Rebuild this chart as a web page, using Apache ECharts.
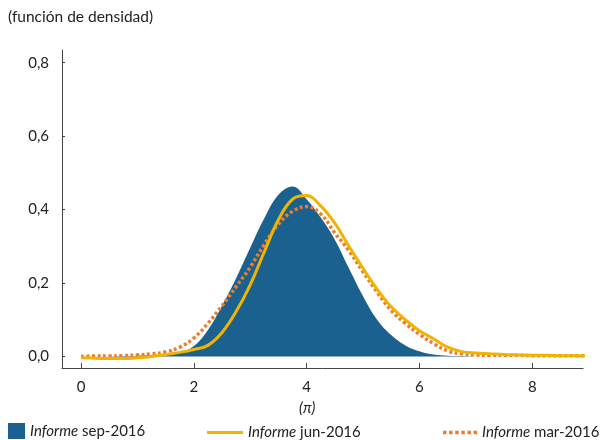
<!DOCTYPE html>
<html>
<head>
<meta charset="utf-8">
<script src="https://cdn.jsdelivr.net/npm/echarts@6/dist/echarts.min.js"></script>
<style>
  html, body { margin: 0; padding: 0; background: #fff; }
  #chart { width: 608px; height: 440px; }
</style>
</head>
<body>
<div id="chart"></div>
<script>
  // eje x (inflación), paso de 0,25
  const xs = [0, 0.25, 0.5, 0.75, 1, 1.25, 1.5, 1.75, 2, 2.25, 2.5, 2.75, 3, 3.25, 3.5, 3.75,
    4, 4.25, 4.5, 4.75, 5, 5.25, 5.5, 5.75, 6, 6.25, 6.5, 6.75, 7, 7.25, 7.5, 7.75, 8, 8.25, 8.5, 8.75, 9];

  const sep2016 = [0, 0, 0, 0.001, 0.002, 0.004, 0.006, 0.01, 0.028, 0.072, 0.138, 0.213, 0.296, 0.376, 0.44, 0.463,
    0.428, 0.378, 0.318, 0.24, 0.164, 0.1, 0.058, 0.03, 0.014, 0.005, 0.002, 0.001, 0, 0, 0, 0, 0, 0, 0, 0, 0];

  const jun2016 = [-0.004, -0.005, -0.006, -0.006, -0.004, 0, 0.005, 0.011, 0.019, 0.03, 0.065, 0.122, 0.195, 0.285, 0.372, 0.428,
    0.438, 0.41, 0.363, 0.3, 0.24, 0.183, 0.135, 0.1, 0.07, 0.048, 0.025, 0.013, 0.009, 0.007, 0.005, 0.004, 0.003, 0.003, 0.002, 0.002, 0.002];

  const mar2016 = [0, 0.001, 0.001, 0.002, 0.004, 0.007, 0.012, 0.025, 0.05, 0.09, 0.138, 0.19, 0.243, 0.305, 0.36, 0.395,
    0.408, 0.388, 0.336, 0.288, 0.23, 0.175, 0.125, 0.09, 0.06, 0.035, 0.015, 0.007, 0.004, 0.003, 0.003, 0.003, 0.002, 0.002, 0.002, 0.002, 0.002];

  const yTicks = [0, 0.2, 0.4, 0.6, 0.8];
  const xTicks = [0, 2, 4, 6, 8];

  const font = 'Lato';
  const pair = arr => xs.map((x, i) => [x, arr[i]]);
  const legendFmt = name => '{i|Informe}' + name.slice(7);
  const legendText = {
    fontSize: 15, color: '#222', fontFamily: font,
    rich: { i: { fontStyle: 'italic', fontSize: 15, fontFamily: font, color: '#222' } }
  };
  // seis puntos para la leyenda punteada
  const dots = 'path://M0,0h3.5v3.5h-3.5z M6.1,0h3.5v3.5h-3.5z M12.2,0h3.5v3.5h-3.5z M18.3,0h3.5v3.5h-3.5z M24.4,0h3.5v3.5h-3.5z M30.5,0h3.5v3.5h-3.5z';

  const chart = echarts.init(document.getElementById('chart'));

  const option = {
    animation: false,
    backgroundColor: '#fff',
    textStyle: { fontFamily: font },
    graphic: [
      {
        type: 'text', left: 8, top: 9,
        style: { text: '(función de densidad)', fontSize: 15.5, fontFamily: font, fill: '#222' }
      },
      {
        type: 'text', left: 299, top: 401,
        style: { text: '(π)', fontSize: 15, fontStyle: 'italic', fontFamily: font, fill: '#222' }
      }
    ],
    grid: { left: 62, right: 25, top: 50, bottom: 72 },
    xAxis: {
      type: 'value',
      min: -0.337,
      max: 8.9,
      splitLine: { show: false },
      axisLine: { onZero: false, lineStyle: { color: '#444', width: 1 } },
      axisTick: { inside: true, length: 5, customValues: xTicks, lineStyle: { color: '#444' } },
      axisLabel: { customValues: xTicks, margin: 12, fontSize: 15, color: '#222', fontFamily: font }
    },
    yAxis: {
      type: 'value',
      min: -0.0316,
      max: 0.8345,
      splitLine: { show: false },
      axisLine: { show: true, onZero: false, lineStyle: { color: '#444', width: 1 } },
      axisTick: { show: true, inside: true, length: 3, customValues: yTicks, lineStyle: { color: '#444' } },
      axisLabel: {
        customValues: yTicks, margin: 13, fontSize: 15, color: '#222', fontFamily: font,
        formatter: v => v.toFixed(1).replace('.', ',')
      }
    },
    legend: [
      {
        left: 8, bottom: 1, padding: 0, itemWidth: 17, itemHeight: 16,
        data: [{ name: 'Informe sep-2016', icon: 'rect' }],
        formatter: legendFmt,
        textStyle: legendText
      },
      {
        left: 207, bottom: 0, padding: 0, itemWidth: 36, itemHeight: 3,
        data: [{ name: 'Informe jun-2016', icon: 'rect' }],
        formatter: legendFmt,
        textStyle: legendText
      },
      {
        left: 443, bottom: 0, padding: 0, itemWidth: 34, itemHeight: 3.5,
        data: [{ name: 'Informe mar-2016', icon: dots }],
        formatter: legendFmt,
        textStyle: legendText
      }
    ],
    series: [
      {
        name: 'Informe sep-2016',
        type: 'line',
        data: pair(sep2016),
        smooth: 0.4,
        symbol: 'none',
        color: '#1b6190',
        lineStyle: { width: 0 },
        areaStyle: { color: '#1b6190', opacity: 1 },
        z: 1
      },
      {
        name: 'Informe mar-2016',
        type: 'line',
        data: pair(mar2016),
        smooth: 0.4,
        symbol: 'none',
        color: '#ee7d2b',
        lineStyle: { width: 3.5, type: [3, 2.5], color: '#ee7d2b' },
        z: 2
      },
      {
        name: 'Informe jun-2016',
        type: 'line',
        data: pair(jun2016),
        smooth: 0.4,
        symbol: 'none',
        color: '#f0b400',
        lineStyle: { width: 3, color: '#f0b400' },
        z: 3
      }
    ]
  };

  chart.setOption(option);
</script>
</body>
</html>
